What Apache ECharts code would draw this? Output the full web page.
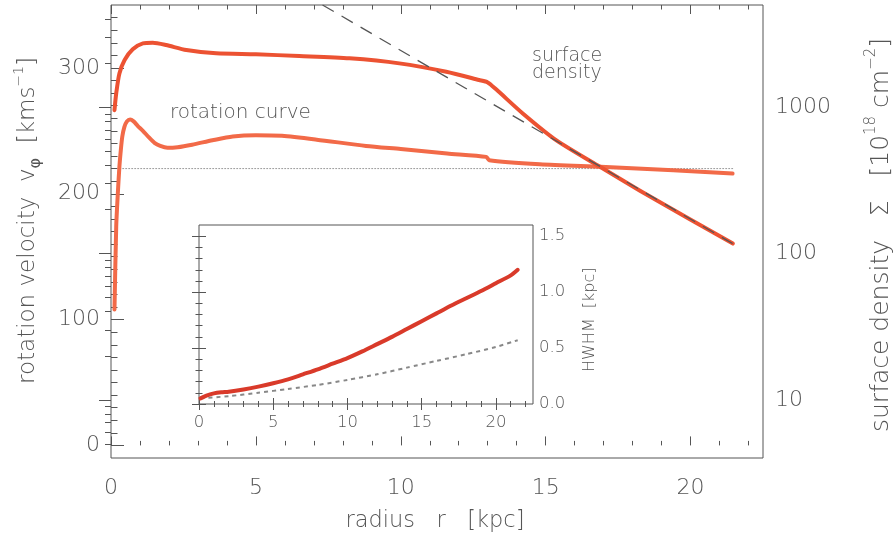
<!DOCTYPE html>
<html>
<head>
<meta charset="utf-8">
<script src="https://cdn.jsdelivr.net/npm/echarts@6/dist/echarts.min.js"></script>
<style>
  html, body { margin: 0; padding: 0; background: #ffffff; }
  #chart { width: 895px; height: 536px; }
</style>
</head>
<body>
<div id="chart"></div>
<script>
// ---- data -----------------------------------------------------------------
// rotation curve: radius r [kpc] and rotation velocity v_phi [km/s]
const rotRadius   = [0.12, 0.18, 0.235, 0.29, 0.34, 0.39, 0.46, 0.55, 0.66, 0.78, 0.92, 1.1, 1.3, 1.5, 1.7, 1.95, 2.3, 2.8, 3.5, 4.2, 5.0, 5.9, 7.1, 8.8, 10.0, 11.6, 12.95, 13.05, 14.8, 16.9, 19.4, 21.45];
const rotVelocity = [108, 174, 200, 221.5, 235, 245.5, 253, 257.5, 259, 257.5, 254, 250, 245, 240.5, 238, 236.5, 237, 239, 242.5, 245.5, 246.5, 246, 243, 238, 235.5, 232, 229.3, 226.7, 223.5, 221.4, 218.7, 216];

// surface density Sigma [1e18 cm^-2]
const densRadius = [0.12, 0.18, 0.29, 0.47, 0.75, 1.1, 1.44, 1.9, 2.6, 3.63, 5.0, 6.5, 8.23, 9.95, 11.57, 12.7, 13.0, 13.3, 14.21, 15.36, 16.86, 18.24, 19.96, 21.46];
const densValue  = [955, 1244, 1703, 2103, 2490, 2735, 2761, 2663, 2459, 2335, 2300, 2240, 2160, 1995, 1748, 1535, 1479, 1320, 907, 596, 393, 270, 172, 117];

// exponential fit of the outer disc (straight in log Sigma)
const fitRadius = [7.3, 21.45];
const fitValue  = [5000, 117];

// flat reference velocity
const refRadius   = [0.3, 21.5];
const refVelocity = [220, 220];

// inset: half width at half maximum of the disc [kpc]
const hwhmRadius = [0.1, 0.5, 1.0, 1.5, 2.0, 3.0, 4.0, 5.0, 6.0, 7.0, 8.0, 9.0, 10.0, 11.0, 12.0, 13.0, 14.0, 15.0, 16.0, 17.0, 18.0, 19.0, 20.0, 21.0, 21.47];
const hwhmValue  = [0.05, 0.075, 0.095, 0.105, 0.11, 0.13, 0.155, 0.185, 0.22, 0.265, 0.31, 0.36, 0.41, 0.47, 0.535, 0.6, 0.67, 0.74, 0.81, 0.88, 0.945, 1.01, 1.08, 1.15, 1.2];
const hwhmRefRadius = [0.1, 2, 4, 6, 8, 10, 12, 14, 16, 18, 20, 21.47];
const hwhmRefValue  = [0.05, 0.07, 0.1, 0.135, 0.17, 0.215, 0.265, 0.325, 0.385, 0.445, 0.51, 0.57];

// tick labels
const radiusTicks   = [0, 5, 10, 15, 20];
const velocityTicks = [0, 100, 200, 300];
const densityTicks  = [10, 100, 1000];
const hwhmTicks     = [0.0, 0.5, 1.0, 1.5];

// ---- styling ----------------------------------------------------------------
const INK = '#555555';
const FONT = '"DejaVu Sans", "Liberation Sans", sans-serif';
const WEIGHT = 200;

const zip = (xs, ys) => xs.map((x, i) => [x, ys[i]]);

// minor tick positions between the labelled ones
function minorSteps(from, to, step, skipEvery) {
  const out = [];
  const n = Math.round((to - from) / step);
  for (let i = 0; i <= n; i++) {
    const v = Math.round((from + i * step) * 1000) / 1000;
    if (Math.abs(v / skipEvery - Math.round(v / skipEvery)) > 1e-6) out.push(v);
  }
  return out;
}
const radiusMinor   = minorSteps(1, 22, 1, 5);
const velocityMinor = minorSteps(10, 340, 10, 100);
const hwhmMinor     = minorSteps(0.1, 1.5, 0.1, 0.5);
const densityMinor  = [5, 6, 7, 8, 9, 20, 30, 40, 50, 60, 70, 80, 90,
                       200, 300, 400, 500, 600, 700, 800, 900, 2000, 3000, 4000];

function axis(o) {
  return {
    type: o.log ? 'log' : 'value',
    logBase: 10,
    gridIndex: o.grid,
    position: o.pos,
    min: o.min,
    max: o.max,
    axisLine: { show: false },
    splitLine: { show: false },
    minorTick: { show: false },
    axisTick: {
      show: true, inside: true, length: o.len, customValues: o.ticks,
      lineStyle: { color: INK, width: 1 }
    },
    axisLabel: o.labels ? {
      show: true, customValues: o.labels, margin: o.margin,
      fontSize: o.size, fontFamily: FONT, fontWeight: WEIGHT, color: INK,
      formatter: o.fmt, hideOverlap: false
    } : { show: false }
  };
}

const R = { min: 0, max: 22.5 };

const xAxis = [
  // main panel
  axis({ grid: 0, pos: 'bottom', ...R, ticks: radiusTicks, len: 9, labels: radiusTicks, margin: 19, size: 22, fmt: v => String(v) }),
  axis({ grid: 0, pos: 'bottom', ...R, ticks: radiusMinor, len: 4.5 }),
  axis({ grid: 0, pos: 'top', ...R, ticks: radiusTicks, len: 9 }),
  axis({ grid: 0, pos: 'top', ...R, ticks: radiusMinor, len: 4.5 }),
  // inset
  axis({ grid: 1, pos: 'bottom', ...R, ticks: radiusTicks, len: 6, labels: radiusTicks, margin: 10, size: 16.5, fmt: v => String(v) }),
  axis({ grid: 1, pos: 'bottom', ...R, ticks: radiusMinor, len: 3 }),
  axis({ grid: 1, pos: 'top', ...R, ticks: radiusTicks, len: 6 }),
  axis({ grid: 1, pos: 'top', ...R, ticks: radiusMinor, len: 3 })
];

const yAxis = [
  // rotation velocity (left)
  axis({ grid: 0, pos: 'left', min: -10, max: 350, ticks: velocityTicks, len: 13, labels: velocityTicks, margin: 11, size: 22, fmt: v => String(v) }),
  axis({ grid: 0, pos: 'left', min: -10, max: 350, ticks: velocityMinor, len: 6.5 }),
  // surface density (right, logarithmic)
  axis({ grid: 0, pos: 'right', log: true, min: 4, max: 5000, ticks: densityTicks, len: 12, labels: densityTicks, margin: 12, size: 22, fmt: v => String(Math.round(v)) }),
  axis({ grid: 0, pos: 'right', log: true, min: 4, max: 5000, ticks: densityMinor, len: 6 }),
  // inset HWHM
  axis({ grid: 1, pos: 'left', min: 0, max: 1.6, ticks: hwhmTicks, len: 7 }),
  axis({ grid: 1, pos: 'left', min: 0, max: 1.6, ticks: hwhmMinor, len: 3.5 }),
  axis({ grid: 1, pos: 'right', min: 0, max: 1.6, ticks: hwhmTicks, len: 7, labels: hwhmTicks, margin: 6, size: 16.5, fmt: v => v.toFixed(1) }),
  axis({ grid: 1, pos: 'right', min: 0, max: 1.6, ticks: hwhmMinor, len: 3.5 })
];

const line = (name, xi, yi, data, style, z, smooth) => ({
  name, type: 'line', xAxisIndex: xi, yAxisIndex: yi, data,
  symbol: 'none', smooth: smooth || false, clip: true, z: z || 2,
  lineStyle: Object.assign({ cap: 'round', join: 'round' }, style)
});

const series = [
  line('reference velocity', 0, 0, zip(refRadius, refVelocity), { color: '#999999', width: 1, type: [1, 2] }),
  line('rotation curve', 0, 0, zip(rotRadius, rotVelocity), { color: '#f26a48', width: 4 }, 3, 0.25),
  line('surface density', 0, 2, zip(densRadius, densValue), { color: '#ec5232', width: 4 }, 4, 0.25),
  line('exponential fit', 0, 2, zip(fitRadius, fitValue), { color: '#555555', width: 1.3, type: [13, 9], cap: 'butt' }, 5),
  line('HWHM', 4, 4, zip(hwhmRadius, hwhmValue), { color: '#d93a2a', width: 4 }, 3, 0.25),
  line('HWHM reference', 4, 4, zip(hwhmRefRadius, hwhmRefValue), { color: '#888888', width: 2, type: [4, 4], cap: 'butt' }, 2, 0.25)
];

const txt = (size) => ({ fontSize: size, fontFamily: FONT, fontWeight: WEIGHT, fill: INK });

// rotated titles are anchored at their starting (lower) end
const graphic = [
  { type: 'text', x: 170, y: 112.5, style: Object.assign({ text: 'rotation curve', verticalAlign: 'middle' }, txt(20)) },
  { type: 'text', x: 532, y: 56.5, style: Object.assign({ text: 'surface', verticalAlign: 'middle' }, txt(19)) },
  { type: 'text', x: 532, y: 73.5, style: Object.assign({ text: 'density', verticalAlign: 'middle' }, txt(19)) },
  {
    type: 'text', x: 28, y: 384, rotation: Math.PI / 2,
    style: {
      text: '{t|rotation velocity  v}{sub|φ}{t|  [kms}{sup|−1}{t|]}',
      align: 'left', verticalAlign: 'middle',
      rich: {
        t: Object.assign({ lineHeight: 32 }, txt(23)),
        sub: Object.assign({ lineHeight: 20, verticalAlign: 'bottom' }, txt(16), { fontWeight: 'normal' }),
        sup: Object.assign({ lineHeight: 14, verticalAlign: 'top' }, txt(14))
      }
    }
  },
  {
    type: 'text', x: 881, y: 432, rotation: Math.PI / 2,
    style: {
      text: '{t|surface density   Σ   [10}{sup|18}{t| cm}{sup|−2}{t|]}',
      align: 'left', verticalAlign: 'middle',
      rich: {
        t: Object.assign({ lineHeight: 34 }, txt(25)),
        sup: Object.assign({ lineHeight: 15, verticalAlign: 'top' }, txt(15))
      }
    }
  },
  { type: 'text', x: 435, y: 521, style: Object.assign({ text: 'radius   r   [kpc]', align: 'center', verticalAlign: 'middle' }, txt(22.5)) },
  { type: 'text', x: 590, y: 372, rotation: Math.PI / 2, style: Object.assign({ text: 'HWHM  [kpc]', align: 'left', verticalAlign: 'middle' }, txt(16)) }
];

const chart = echarts.init(document.getElementById('chart'), null, { renderer: 'canvas' });
chart.setOption({
  animation: false,
  backgroundColor: '#ffffff',
  textStyle: { fontFamily: FONT },
  grid: [
    { left: 111, right: 132, top: 5, bottom: 78, show: true, borderColor: INK, borderWidth: 1, backgroundColor: 'transparent', containLabel: false, outerBoundsMode: 'none' },
    { left: 199, right: 362, top: 225, bottom: 132, show: true, borderColor: INK, borderWidth: 1, backgroundColor: 'transparent', containLabel: false, outerBoundsMode: 'none' }
  ],
  xAxis,
  yAxis,
  series,
  graphic
});
</script>
</body>
</html>
